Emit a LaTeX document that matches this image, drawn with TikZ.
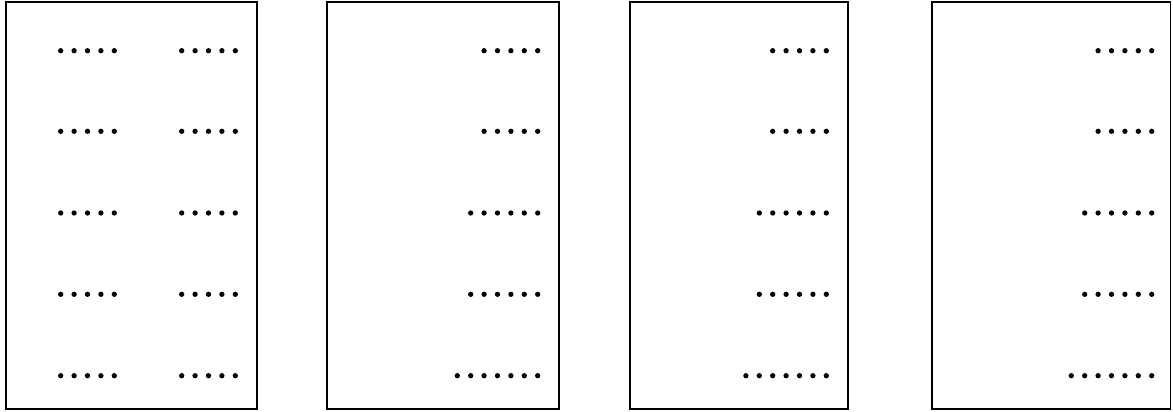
\documentclass[tikz,border=0pt]{standalone}
\usepackage{tikz}
\usetikzlibrary{positioning}

\begin{document}
\begin{tikzpicture}[x=0.02cm,y=-0.02cm,frame/.style={line width=1.1pt}]
    \useasboundingbox (0,0) rectangle (1173,412);
    %% the four boxes
    \draw[frame] (6,2) rectangle (257,409);
    \draw[frame] (327.3,2) rectangle (558.7,409);
    \draw[frame] (630,2) rectangle (847.7,409);
    \draw[frame] (932,2) rectangle (1170.5,409);
    %% first box: two columns of five dots
    \foreach \y in {50.7,131.3,213,294.3,375.7} {
        \foreach \i in {0,...,4} {
            \fill (60.7+13.4*\i,\y) circle (0.053cm);
            \fill (181.7+13.4*\i,\y) circle (0.053cm);
        }
    }
    %% other boxes: rows flush right
    \foreach \xr in {537.7,826.3,1151.7} {
        \foreach \y/\n in {50.7/4,131.3/4,213/5,294.3/5,375.7/6} {
            \foreach \i in {0,...,\n}
                \fill (\xr-13.4*\i,\y) circle (0.053cm);
        }
    }
\end{tikzpicture}
\end{document}
